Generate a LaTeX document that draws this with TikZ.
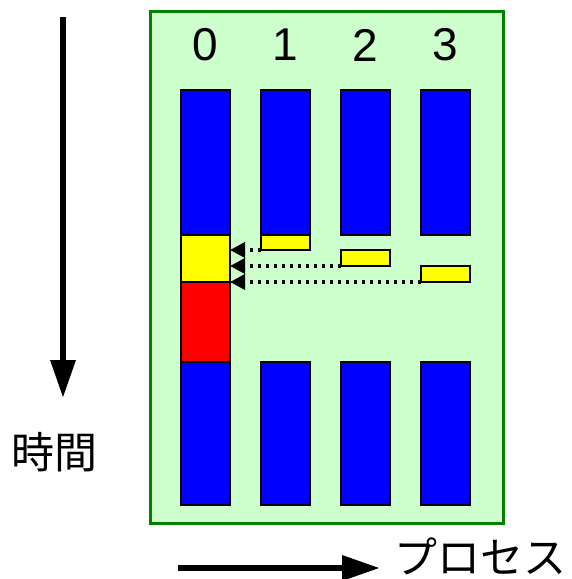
\documentclass[tikz,border=0pt]{standalone}
\usepackage{fontspec}
\setmainfont{Liberation Sans}
\newfontfamily\jp{Noto Sans CJK JP}
\usetikzlibrary{arrows.meta}
\definecolor{bgreen}{RGB}{204,255,204}
\definecolor{dgreen}{RGB}{0,128,0}
\definecolor{myblue}{RGB}{0,0,255}
\definecolor{myyellow}{RGB}{255,255,0}
\definecolor{myred}{RGB}{255,0,0}
\tikzset{
  blk/.style={draw=black, line width=1.5pt, inner sep=0pt, outer sep=0pt, anchor=north west},
  bluebox/.style={blk, fill=myblue, minimum width=49pt},
  yelbox/.style={blk, fill=myyellow, minimum width=49pt},
  redbox/.style={blk, fill=myred, minimum width=49pt},
  msg/.style={line width=3.5pt, dash pattern=on 3.5pt off 4.5pt, -{Triangle[length=15pt,width=15pt]}},
  bigarrow/.style={line width=6.5pt, -{Triangle[length=38pt,width=24pt]}},
  lbl/.style={font=\fontsize{46}{50}\selectfont, inner sep=0pt},
  jplbl/.style={font=\jp\fontsize{43}{48}\selectfont, inner sep=0pt}
}
\begin{document}
\begin{tikzpicture}[x=1pt,y=-1pt]
\useasboundingbox (0,0) rectangle (572,579);
% frame
\node[draw=dgreen, line width=3pt, fill=bgreen, inner sep=0pt, minimum width=353pt, minimum height=512pt, anchor=north west] (frame) at (149,10) {};
% labels
\node[lbl] (l0) at (205.5,45) {0};
\node[lbl] (l1) at (285.5,45) {1};
\node[lbl] (l2) at (365.5,45) {2};
\node[lbl] (l3) at (445.5,45) {3};
% top blue
\node[bluebox, minimum height=145pt] (b0) at (181,90) {};
\node[bluebox, minimum height=145pt] (b1) at (261,90) {};
\node[bluebox, minimum height=145pt] (b2) at (341,90) {};
\node[bluebox, minimum height=145pt] (b3) at (421,90) {};
% process 0 yellow and red
\node[yelbox, minimum height=47pt] (y0) at (181,235) {};
\node[redbox, minimum height=80pt] (r0) at (181,282) {};
% small yellow
\node[yelbox, minimum height=15pt] (y1) at (261,235) {};
\node[yelbox, minimum height=16pt] (y2) at (341,250) {};
\node[yelbox, minimum height=16pt] (y3) at (421,266) {};
% bottom blue
\node[bluebox, minimum height=143pt] (c0) at (181,362) {};
\node[bluebox, minimum height=143pt] (c1) at (261,362) {};
\node[bluebox, minimum height=143pt] (c2) at (341,362) {};
\node[bluebox, minimum height=143pt] (c3) at (421,362) {};
% messages
\draw[msg] (y1.south west) -- (y1.south west -| y0.east);
\draw[msg] (y2.south west) -- (y2.south west -| y0.east);
\draw[msg] (y3.south west) -- (y3.south west -| y0.east);
% axes
\coordinate (t0) at (63,17);
\coordinate (t1) at (63,398);
\draw[bigarrow] (t0) -- (t1);
\node[jplbl] (time) at (55,452) {時間};
\coordinate (p0) at (178,568);
\coordinate (p1) at (380,568);
\draw[bigarrow] (p0) -- (p1);
\node[jplbl] (proc) at (480,556) {プロセス};
\end{tikzpicture}
\end{document}
